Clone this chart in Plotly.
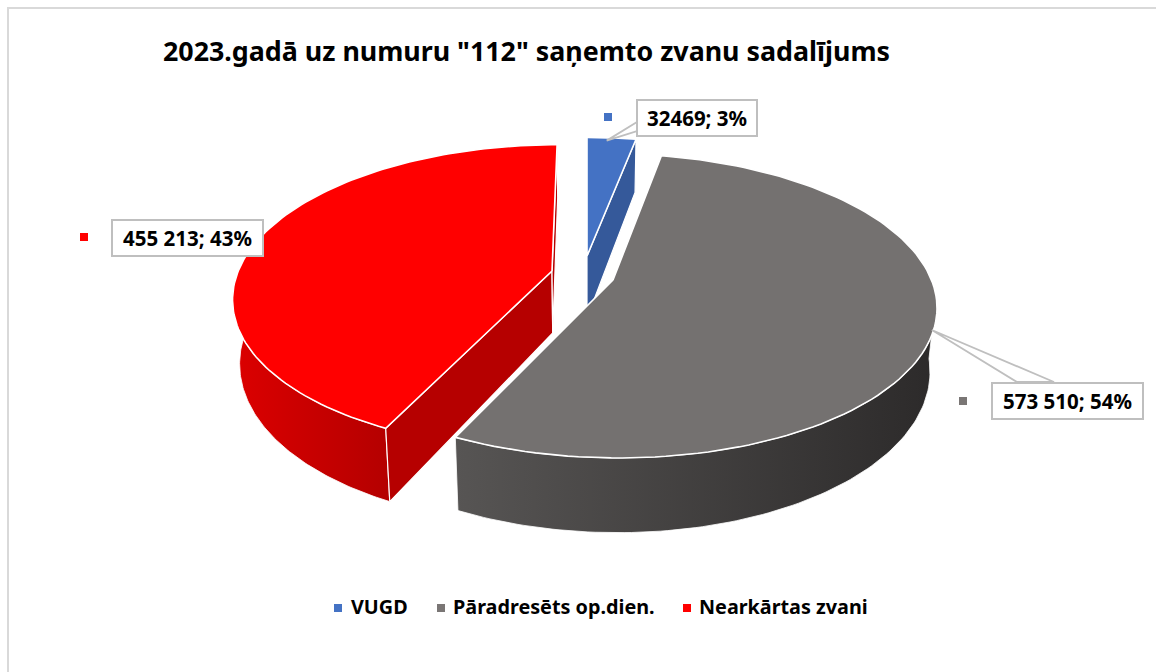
import numpy as np
import plotly.graph_objects as go

# ---- data ----
categories = ["VUGD", "Pāradresēts op.dien.", "Nearkārtas zvani"]
values = [32469, 573510, 455213]
label_texts = ["32469; 3%", "573 510; 54%", "455 213; 43%"]
title_text = '2023.gadā uz numuru "112" saņemto zvanu sadalījums'

# ---- styling ----
top_colors = ["#4472C4", "#747170", "#FF0000"]
cut_colors = ["#35599A", "#3A3838", "#B60000"]
wall_grads = [None, ("#575554", "#2C2A2A"), ("#DC0000", "#B40000")]
legend_colors = ["#4472C4", "#7A7675", "#FF0000"]
FONT = "Noto Sans"

# projection of the tilted pie into the pixel-scaled axes
VX, VY = 587.0, 280.0
R, TILT_R, PERSP, DEPTH, SHRINK = 318.5, 147.7, 0.17, 62.0, 0.98
offsets = [(0, -24), (26, 0), (-35, -9)]  # explosion of each slice
scales = [0.94, 1.0, 1.0]
x_scales = [1.0, 1.0, 0.985]


def top(theta, i):
    off = offsets[i]
    t = np.radians(theta)
    u, v = np.sin(t), -np.cos(t)
    f = scales[i] / (1 - PERSP * v)
    return VX + off[0] + R * x_scales[i] * u * f + off[0] * (f / scales[i] - 1), VY + off[1] + TILT_R * v * f


def apex(i):
    return VX + offsets[i][0], VY + offsets[i][1]


def bottom(x, y, theta):
    t = np.radians(theta)
    v = -np.cos(t)
    f = 1 / (1 - PERSP * v)
    return VX + (x - VX) * SHRINK, y + DEPTH * f


def bottom_apex(i):
    return VX + offsets[i][0] * SHRINK, VY + offsets[i][1] + DEPTH


fig = go.Figure()


def poly(xs, ys, color=None, grad=None, lw=1.2, lc="white"):
    kw = dict(fillcolor=color) if grad is None else dict(
        fillgradient=dict(type="horizontal", colorscale=[[0, grad[0]], [1, grad[1]]]))
    fig.add_trace(go.Scatter(x=list(xs) + [xs[0]], y=list(ys) + [ys[0]], mode="lines", fill="toself",
                             line=dict(color=lc, width=lw), hoverinfo="skip", showlegend=False, **kw))


def cut_face(theta, i):
    ax, ay = apex(i)
    bx, by = bottom_apex(i)
    ox, oy = top(theta, i)
    qx, qy = bottom(ox, oy, theta)
    poly([ax, ox, qx, bx], [ay, oy, qy, by], cut_colors[i])


total = sum(values)
spans = [v / total * 360 for v in values]
starts = [sum(spans[:i]) for i in range(3)]
ends = [s + d for s, d in zip(starts, spans)]


def wedge(i):
    th = np.linspace(starts[i], ends[i], 120)
    x, y = top(th, i)
    ax, ay = apex(i)
    poly([ax] + list(x), [ay] + list(y), top_colors[i], lw=1.6)


def wall(i, a, b):
    th = np.linspace(a, b, 100)
    x, y = top(th, i)
    bx, by = bottom(x, y, th)
    poly(list(x) + list(bx[::-1]), list(y) + list(by[::-1]), grad=wall_grads[i], lw=0.8)


# blue slice (back)
cut_face(ends[0], 0)
wedge(0)
# red slice
wall(2, starts[2], 268)
cut_face(starts[2], 2)
cut_face(ends[2], 2)
wedge(2)
# grey slice (front)
wall(1, 96, ends[1])
wedge(1)

# callout wedges, anchored on the slice rims
box_h = 38
label_pos = [(697, 118, 120), (1067, 401, 151), (187.5, 238, 151)]

tx, ty = top(starts[0] + spans[0] * 0.4, 0)
poly([tx, 637, 637], [ty + 3, 122, 131], "white", lw=1.8, lc="#BFBFBF")
tx, ty = top(110.5, 1)
poly([tx, 1017, 1054], [ty - 5, 382, 382], "white", lw=1.8, lc="#BFBFBF")

# label keys
key_x, key_y = [608, 963, 84], [117, 401, 237]
fig.add_trace(go.Scatter(x=key_x, y=key_y, mode="markers", hoverinfo="skip", showlegend=False,
                         marker=dict(symbol="square", size=8, color=legend_colors)))

# legend keys
leg_x, leg_y = [338, 441, 687], [608, 608, 608]
fig.add_trace(go.Scatter(x=leg_x, y=leg_y, mode="markers", hoverinfo="skip", showlegend=False,
                         marker=dict(symbol="square", size=8, color=legend_colors)))

annotations = []
for (x, y, w), txt in zip(label_pos, label_texts):
    annotations.append(dict(x=x, y=y, xref="x", yref="y", text=f"<b>{txt}</b>", showarrow=False,
                            width=w - 4, height=box_h - 6, align="center", valign="middle",
                            bgcolor="white", bordercolor="#BFBFBF", borderwidth=2, borderpad=1,
                            font=dict(family=FONT, size=20.5, color="black")))
for x, txt in zip([348.5, 450.5, 697], categories):
    annotations.append(dict(x=x, y=606, xref="x", yref="y", text=f"<b>{txt}</b>", showarrow=False,
                            xanchor="left", yanchor="middle",
                            font=dict(family=FONT, size=19.8, color="black")))
annotations.append(dict(x=161, y=50, xref="x", yref="y", text=f"<b>{title_text}</b>", showarrow=False,
                        xanchor="left", yanchor="middle",
                        font=dict(family=FONT, size=26.8, color="black")))

fig.update_layout(
    width=1156, height=672, margin=dict(l=0, r=0, t=0, b=0),
    paper_bgcolor="white", plot_bgcolor="white", showlegend=False,
    xaxis=dict(range=[0, 1156], visible=False, fixedrange=True),
    yaxis=dict(range=[672, 0], visible=False, fixedrange=True),
    annotations=annotations,
    shapes=[dict(type="path", xref="x", yref="y", path="M 8 672 L 8 8 L 1156 8",
                 line=dict(color="#D9D9D9", width=2), layer="below")],
)
fig.write_html("out.html", config={"displayModeBar": False},
               post_script="document.body.style.margin='0';")
